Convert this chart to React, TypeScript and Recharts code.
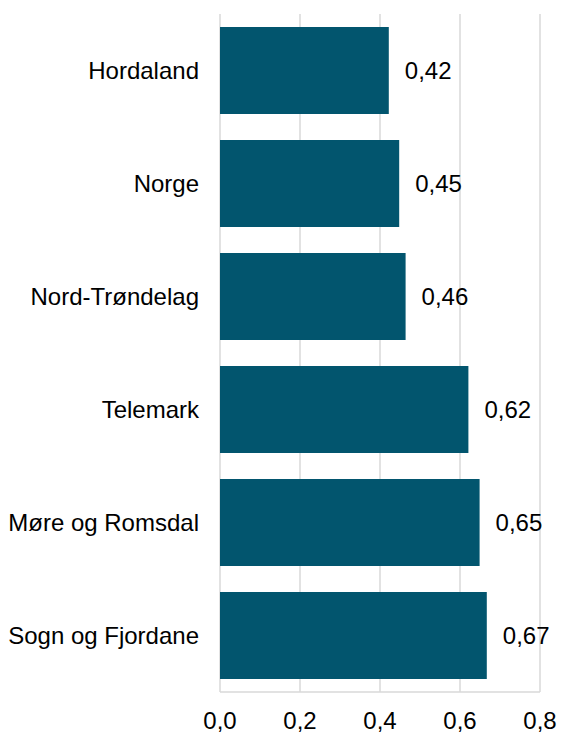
import { BarChart, Bar, XAxis, YAxis, CartesianGrid, LabelList } from 'recharts';

const categories = ['Hordaland', 'Norge', 'Nord-Trøndelag', 'Telemark', 'Møre og Romsdal', 'Sogn og Fjordane'];
const values = [0.422, 0.448, 0.464, 0.621, 0.649, 0.667];
const xTicks = [0, 0.2, 0.4, 0.6, 0.8];

const data = categories.map((name, i) => ({ name, value: values[i] }));

const fmt1 = (v: number) => v.toFixed(1).replace('.', ',');
const fmt2 = (v: number) => v.toFixed(2).replace('.', ',');

const font = { fontFamily: '"Liberation Sans", Arial, sans-serif', fontSize: 24, fill: '#000' };

export default function App() {
  return (
    <div style={{ position: 'absolute', left: 0, top: 0, background: '#fff' }}>
      <BarChart
        width={561}
        height={733}
        data={data}
        layout="vertical"
        margin={{ top: 14, right: 21, bottom: 0, left: 0 }}
        barCategoryGap="11.5%"
      >
        <CartesianGrid horizontal={false} stroke="#d9d9d9" strokeWidth={1.5} />
        <XAxis
          type="number"
          domain={[0, 0.8]}
          ticks={xTicks}
          tickFormatter={fmt1}
          height={41}
          tickLine={false}
          tickSize={0}
          tickMargin={20}
          axisLine={{ stroke: '#d9d9d9', strokeWidth: 1.5 }}
          tick={font}
          interval={0}
        />
        <YAxis
          type="category"
          dataKey="name"
          width={220}
          axisLine={false}
          tickLine={false}
          tickSize={0}
          tickMargin={21}
          tick={font}
          interval={0}
        />
        <Bar dataKey="value" fill="#02556e" isAnimationActive={false}>
          <LabelList
            dataKey="value"
            position="right"
            offset={16}
            formatter={(v: any) => fmt2(Number(v))}
            style={font}
          />
        </Bar>
      </BarChart>
    </div>
  );
}
